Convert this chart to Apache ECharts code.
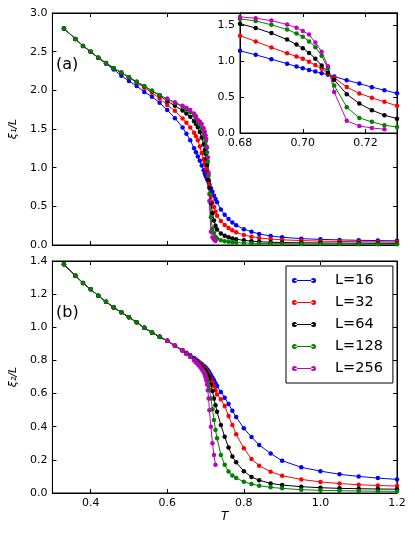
<!DOCTYPE html>
<html>
<head>
<meta charset="utf-8">
<script src="https://cdn.jsdelivr.net/npm/echarts@6/dist/echarts.min.js"></script>
<style>
html,body{margin:0;padding:0;background:#fff;}
#c{width:415px;height:534px;}
</style>
</head>
<body>
<div id="c"></div>
<script>
// Temperature grids
const T_low  = [0.33, 0.36, 0.38, 0.40, 0.42, 0.44, 0.46, 0.48, 0.50, 0.52, 0.54, 0.56, 0.58];
const T_mid  = [0.60, 0.62, 0.64, 0.65, 0.66, 0.67, 0.675, 0.68, 0.685, 0.69, 0.695, 0.698, 0.700, 0.702, 0.704, 0.706, 0.708, 0.710, 0.714, 0.718, 0.722, 0.726, 0.730];
const T_tail = [0.74, 0.75, 0.76, 0.77, 0.78, 0.80, 0.82, 0.84, 0.87, 0.90, 0.95, 1.00, 1.05, 1.10, 1.15, 1.20];
const T_256  = [0.60, 0.62, 0.64, 0.65, 0.66, 0.67, 0.675, 0.68, 0.685, 0.69, 0.695, 0.698, 0.700, 0.702, 0.704, 0.706, 0.708, 0.710, 0.714, 0.718, 0.722, 0.726];

// xi_1 / L  (panel a)
const xi1_L16 = [2.80, 2.665, 2.574, 2.50, 2.42, 2.345, 2.27, 2.19, 2.12, 2.057, 1.98, 1.918, 1.84,
  1.746, 1.64, 1.52, 1.44, 1.355, 1.25, 1.20, 1.144, 1.088, 1.027, 0.965, 0.925, 0.90, 0.878, 0.855, 0.833, 0.81, 0.785, 0.735, 0.688, 0.638, 0.595, 0.552,
  0.46, 0.39, 0.335, 0.29, 0.255, 0.205, 0.172, 0.143, 0.116, 0.100, 0.082, 0.073, 0.066, 0.061, 0.057, 0.054];
const xi1_L32 = [2.80, 2.665, 2.574, 2.50, 2.42, 2.354, 2.285, 2.228, 2.165, 2.10, 2.035, 1.968, 1.895,
  1.81, 1.735, 1.635, 1.58, 1.52, 1.45, 1.405, 1.354, 1.275, 1.19, 1.11, 1.065, 1.035, 0.99, 0.945, 0.895, 0.825, 0.77, 0.64, 0.55, 0.49, 0.434, 0.378,
  0.31, 0.26, 0.22, 0.19, 0.165, 0.13, 0.108, 0.092, 0.077, 0.067, 0.057, 0.05, 0.046, 0.042, 0.04, 0.038];
const xi1_L64 = [2.80, 2.665, 2.574, 2.50, 2.42, 2.354, 2.285, 2.23, 2.17, 2.11, 2.052, 1.993, 1.932,
  1.86, 1.80, 1.74, 1.70, 1.66, 1.60, 1.565, 1.522, 1.46, 1.39, 1.30, 1.23, 1.18, 1.115, 1.035, 0.94, 0.84, 0.74, 0.54, 0.41, 0.318, 0.248, 0.20,
  0.15, 0.12, 0.10, 0.085, 0.075, 0.06, 0.05, 0.043, 0.036, 0.032, 0.028, 0.026, 0.024, 0.023, 0.022, 0.021];
const xi1_L128 = [2.80, 2.665, 2.574, 2.50, 2.42, 2.354, 2.285, 2.23, 2.17, 2.11, 2.053, 1.996, 1.94,
  1.89, 1.835, 1.785, 1.755, 1.72, 1.675, 1.64, 1.588, 1.56, 1.505, 1.44, 1.385, 1.34, 1.275, 1.195, 1.075, 0.90, 0.66, 0.36, 0.21, 0.155, 0.108, 0.084,
  0.062, 0.05, 0.042, 0.037, 0.033, 0.027, 0.023, 0.02, 0.018, 0.016, 0.014, 0.013, 0.012, 0.011, 0.011, 0.01];
const xi1_L256 = [1.89, 1.845, 1.80, 1.775, 1.745, 1.70, 1.665, 1.616, 1.597, 1.564, 1.51, 1.465, 1.42, 1.37, 1.26, 1.13, 0.93, 0.57, 0.17, 0.098, 0.07, 0.052];

// xi_2 / L  (panel b)
const xi2_L16 = [1.38, 1.311, 1.267, 1.229, 1.19, 1.154, 1.12, 1.09, 1.06, 1.03, 0.997, 0.969, 0.943,
  0.918, 0.89, 0.862, 0.847, 0.831, 0.815, 0.806, 0.797, 0.788, 0.778, 0.768, 0.762, 0.757, 0.752, 0.746, 0.74, 0.733, 0.727, 0.712, 0.697, 0.68, 0.663, 0.645,
  0.61, 0.575, 0.537, 0.497, 0.458, 0.39, 0.338, 0.29, 0.238, 0.195, 0.155, 0.132, 0.113, 0.10, 0.09, 0.082];
const xi2_L32 = [1.38, 1.311, 1.267, 1.229, 1.19, 1.154, 1.12, 1.09, 1.06, 1.03, 0.997, 0.969, 0.943,
  0.918, 0.889, 0.86, 0.844, 0.827, 0.809, 0.80, 0.79, 0.78, 0.769, 0.758, 0.751, 0.746, 0.739, 0.732, 0.724, 0.716, 0.708, 0.69, 0.668, 0.645, 0.62, 0.595,
  0.565, 0.525, 0.465, 0.41, 0.355, 0.27, 0.205, 0.165, 0.128, 0.104, 0.082, 0.067, 0.057, 0.05, 0.045, 0.042];
const xi2_L64 = [1.38, 1.311, 1.267, 1.229, 1.19, 1.154, 1.12, 1.09, 1.06, 1.03, 0.997, 0.969, 0.943,
  0.918, 0.888, 0.858, 0.841, 0.824, 0.805, 0.794, 0.783, 0.772, 0.76, 0.748, 0.74, 0.734, 0.727, 0.72, 0.712, 0.704, 0.69, 0.655, 0.615, 0.57, 0.53, 0.49,
  0.41, 0.34, 0.275, 0.22, 0.185, 0.132, 0.097, 0.077, 0.058, 0.048, 0.038, 0.032, 0.028, 0.026, 0.024, 0.023];
const xi2_L128 = [1.38, 1.311, 1.267, 1.229, 1.19, 1.154, 1.12, 1.09, 1.06, 1.03, 0.997, 0.969, 0.943,
  0.918, 0.888, 0.858, 0.84, 0.822, 0.802, 0.79, 0.778, 0.766, 0.752, 0.736, 0.724, 0.714, 0.70, 0.685, 0.668, 0.648, 0.625, 0.57, 0.505, 0.44, 0.38, 0.33,
  0.23, 0.17, 0.13, 0.105, 0.09, 0.068, 0.054, 0.044, 0.034, 0.028, 0.02, 0.016, 0.014, 0.012, 0.011, 0.01];
const xi2_L256 = [0.918, 0.888, 0.858, 0.84, 0.822, 0.80, 0.788, 0.775, 0.762, 0.745, 0.728, 0.712, 0.70, 0.68, 0.655, 0.62, 0.57, 0.50, 0.40, 0.30, 0.23, 0.17];

// Tick labels
const xTicksMain  = [0.4, 0.6, 0.8, 1.0, 1.2];
const yTicksA     = [0.0, 0.5, 1.0, 1.5, 2.0, 2.5, 3.0];
const yTicksB     = [0.0, 0.2, 0.4, 0.6, 0.8, 1.0, 1.2, 1.4];
const xTicksInset = [0.68, 0.70, 0.72];
const yTicksInset = [0.0, 0.5, 1.0, 1.5];

const seriesNames = ['L=16', 'L=32', 'L=64', 'L=128', 'L=256'];
const colors = ['#0000ff', '#ff0000', '#000000', '#008000', '#bf00bf'];

const T_all = T_low.concat(T_mid, T_tail);
const tGrids = [T_all, T_all, T_all, T_all, T_256];
const xi1 = [xi1_L16, xi1_L32, xi1_L64, xi1_L128, xi1_L256];
const xi2 = [xi2_L16, xi2_L32, xi2_L64, xi2_L128, xi2_L256];

function zip(t, v) { return t.map((x, i) => [x, v[i]]); }

const FONT = 'DejaVu Sans';
const tickStyle = {show: true, inside: true, length: 4, lineStyle: {color: '#000', width: 1}};
const lineStyle = {show: true, lineStyle: {color: '#000', width: 1}};

function makeAxis(grid, pos, min, max, ticks, showLabels, fmt, extra) {
  return Object.assign({
    type: 'value', gridIndex: grid, position: pos, min: min, max: max,
    axisLine: Object.assign({onZero: false}, lineStyle),
    axisTick: Object.assign({customValues: ticks}, tickStyle),
    splitLine: {show: false},
    axisLabel: {show: showLabels, customValues: ticks, color: '#000', fontSize: 11, fontFamily: FONT, margin: 5,
      formatter: v => v.toFixed(fmt)}
  }, extra || {});
}

const series = [];
for (let k = 0; k < 5; k++) {
  const base = {
    type: 'line', name: seriesNames[k], symbol: 'circle', symbolSize: 4.5,
    lineStyle: {color: colors[k], width: 1}, itemStyle: {color: colors[k]},
    animation: false, silent: true, clip: true
  };
  series.push(Object.assign({}, base, {xAxisIndex: 0, yAxisIndex: 0, data: zip(tGrids[k], xi1[k])}));
  series.push(Object.assign({}, base, {xAxisIndex: 2, yAxisIndex: 2, data: zip(tGrids[k], xi2[k])}));
  series.push(Object.assign({}, base, {xAxisIndex: 4, yAxisIndex: 4, z: 5, data: zip(tGrids[k], xi1[k])}));
}

const legendIcon = 'path://M0,3 A2.5,2.5 0 1,0 5,3 A2.5,2.5 0 1,0 0,3 Z M19,3 A2.5,2.5 0 1,0 24,3 A2.5,2.5 0 1,0 19,3 Z M2.5,2.5 L21.5,2.5 L21.5,3.5 L2.5,3.5 Z';

const option = {
  animation: false,
  backgroundColor: '#fff',
  grid: [
    {left: 49, top: 13, width: 348, height: 232, show: true, borderColor: '#000', borderWidth: 1, backgroundColor: 'transparent'},
    {left: 49, top: 261, width: 348, height: 232, show: true, borderColor: '#000', borderWidth: 1, backgroundColor: 'transparent'},
    {left: 240, top: 13, width: 157, height: 120, show: true, borderColor: '#000', borderWidth: 1, backgroundColor: '#fff', z: 3}
  ],
  xAxis: [
    makeAxis(0, 'bottom', 0.3, 1.2, xTicksMain, false, 1),
    makeAxis(0, 'top', 0.3, 1.2, xTicksMain, false, 1),
    makeAxis(1, 'bottom', 0.3, 1.2, xTicksMain, true, 1, {
      name: 'T', nameLocation: 'middle', nameGap: 18,
      nameTextStyle: {fontFamily: FONT, fontStyle: 'italic', fontSize: 12, color: '#000'}}),
    makeAxis(1, 'top', 0.3, 1.2, xTicksMain, false, 1),
    makeAxis(2, 'bottom', 0.68, 0.73, xTicksInset, true, 2, {z: 4}),
    makeAxis(2, 'top', 0.68, 0.73, xTicksInset, false, 2, {z: 4})
  ],
  yAxis: [
    makeAxis(0, 'left', 0, 3.0, yTicksA, true, 1, {
      name: 'ξ₁/L', nameLocation: 'middle', nameRotate: 90, nameGap: 30,
      nameTextStyle: {fontFamily: FONT, fontStyle: 'italic', fontSize: 11, color: '#000'}}),
    makeAxis(0, 'right', 0, 3.0, yTicksA, false, 1),
    makeAxis(1, 'left', 0, 1.4, yTicksB, true, 1, {
      name: 'ξ₂/L', nameLocation: 'middle', nameRotate: 90, nameGap: 30,
      nameTextStyle: {fontFamily: FONT, fontStyle: 'italic', fontSize: 11, color: '#000'}}),
    makeAxis(1, 'right', 0, 1.4, yTicksB, false, 1),
    makeAxis(2, 'left', 0, 1.67, yTicksInset, true, 1, {z: 4}),
    makeAxis(2, 'right', 0, 1.67, yTicksInset, false, 1, {z: 4})
  ],
  legend: {
    show: true, orient: 'vertical', left: 286, top: 266,
    data: seriesNames.map(n => ({name: n, icon: legendIcon})),
    itemWidth: 24, itemHeight: 5, itemGap: 7,
    padding: [7, 10, 7, 6],
    backgroundColor: '#fff', borderColor: '#000', borderWidth: 1, borderRadius: 0,
    textStyle: {fontFamily: FONT, fontSize: 14.5, color: '#000', padding: [0, 0, 0, 14]},
    selectedMode: false
  },
  graphic: [
    {type: 'text', left: 56, top: 57, z: 10, style: {text: '(a)', font: '16px "DejaVu Sans"', fill: '#000'}},
    {type: 'text', left: 56, top: 305, z: 10, style: {text: '(b)', font: '16px "DejaVu Sans"', fill: '#000'}}
  ],
  series: series
};

const chart = echarts.init(document.getElementById('c'), null, {renderer: 'canvas'});
chart.setOption(option);
</script>
</body>
</html>
